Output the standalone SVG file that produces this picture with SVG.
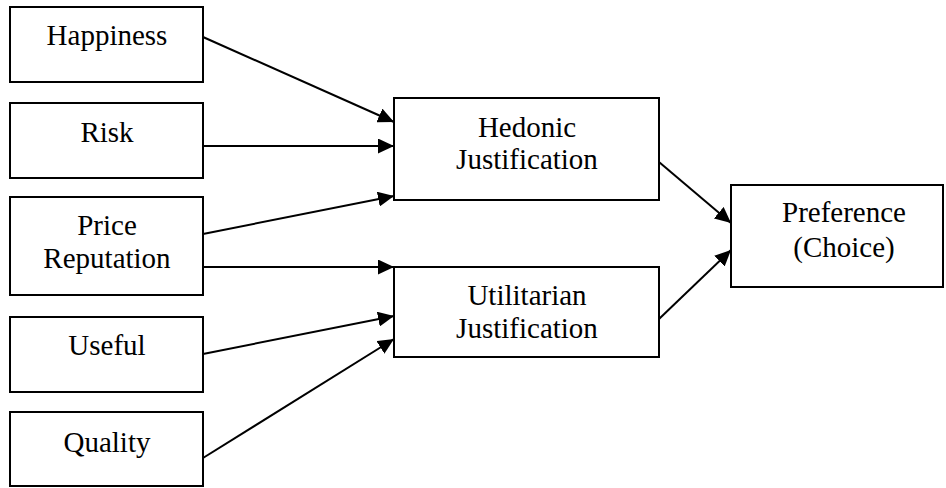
<svg xmlns="http://www.w3.org/2000/svg" width="946" height="488" viewBox="0 0 946 488">
  <style>
    .box { fill: #ffffff; stroke: #000000; stroke-width: 2; }
    .label { font-family: "Liberation Serif", "Times New Roman", serif; font-size: 29px; fill: #000000; text-anchor: middle; }
    .link { stroke: #000000; stroke-width: 2; fill: none; marker-end: url(#arrow); }
  </style>
  <defs>
    <marker id="arrow" markerUnits="userSpaceOnUse" markerWidth="16" markerHeight="15" refX="16" refY="7.5" orient="auto">
      <path d="M0,0 L16,7.5 L0,15 Z" fill="#000000"/>
    </marker>
  </defs>
  <rect width="946" height="488" fill="#ffffff"/>

  <!-- antecedent factors -->
  <g id="happiness">
    <rect class="box" x="10" y="7" width="193" height="75"/>
    <text class="label" x="107" y="45">Happiness</text>
  </g>
  <g id="risk">
    <rect class="box" x="10" y="103" width="193" height="75"/>
    <text class="label" x="107" y="142">Risk</text>
  </g>
  <g id="price-reputation">
    <rect class="box" x="10" y="197" width="193" height="98"/>
    <text class="label" x="107" y="235">Price</text>
    <text class="label" x="107" y="268">Reputation</text>
  </g>
  <g id="useful">
    <rect class="box" x="10" y="317" width="193" height="75"/>
    <text class="label" x="107" y="355">Useful</text>
  </g>
  <g id="quality">
    <rect class="box" x="10" y="412" width="193" height="74"/>
    <text class="label" x="107" y="452">Quality</text>
  </g>

  <!-- justifications -->
  <g id="hedonic">
    <rect class="box" x="394" y="98" width="265" height="102"/>
    <text class="label" x="527" y="137">Hedonic</text>
    <text class="label" x="527" y="169">Justification</text>
  </g>
  <g id="utilitarian">
    <rect class="box" x="394" y="267" width="265" height="90"/>
    <text class="label" x="527" y="305">Utilitarian</text>
    <text class="label" x="527" y="338">Justification</text>
  </g>

  <!-- outcome -->
  <g id="preference">
    <rect class="box" x="731" y="185" width="212" height="102"/>
    <text class="label" x="844" y="222">Preference</text>
    <text class="label" x="844" y="257">(Choice)</text>
  </g>

  <g id="connectors">
    <line class="link" x1="203" y1="37" x2="394" y2="122"/>
    <line class="link" x1="203" y1="146" x2="394" y2="146"/>
    <line class="link" x1="203" y1="234" x2="394" y2="196"/>
    <line class="link" x1="203" y1="267" x2="394" y2="267"/>
    <line class="link" x1="203" y1="354" x2="394" y2="316"/>
    <line class="link" x1="203" y1="458" x2="394" y2="339"/>
    <line class="link" x1="659" y1="162" x2="731" y2="223"/>
    <line class="link" x1="659" y1="319" x2="731" y2="250"/>
  </g>
</svg>
